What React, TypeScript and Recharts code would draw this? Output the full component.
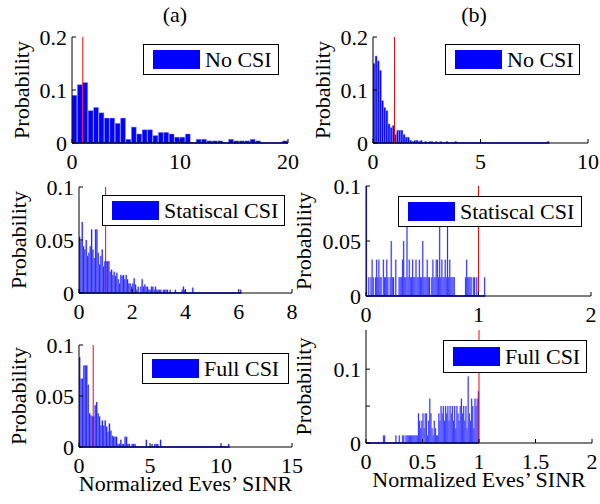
import React from 'react';
import { BarChart, Bar, XAxis, YAxis, ReferenceLine, Legend } from 'recharts';

const FONT = '"Liberation Serif", "Times New Roman", Times, serif';
const BLUE = '#0000ff';

// histogram bin widths
const aNoCsiBin = 0.5;
const bNoCsiBin = 0.1;
const aStatBin = 0.05;
const bStatBin = 0.01;
const aFullBin = 0.1;
const bFullBin = 0.01;

// (a) No CSI
const aNoCsi = [
  0.09, 0.11, 0.114, 0.061, 0.067, 0.057, 0.047, 0.047, 0.037, 0.047,
  0.007, 0.03, 0.017, 0.025, 0.025, 0.014, 0.02, 0.02, 0.017, 0.011,
  0.011, 0.017, 0, 0.007, 0.007, 0.004, 0.004, 0.004, 0, 0.007,
  0.004, 0.004, 0.004, 0.007, 0.004, 0, 0, 0, 0, 0.004,
];

// (b) No CSI
const bNoCsi = [
  0.15, 0.164, 0.155, 0.137, 0.08, 0.067, 0.061, 0.036, 0.029, 0.033,
  0.016, 0.024, 0.024, 0.024, 0.016, 0.011, 0.011, 0.005, 0.003, 0.005,
  0.005, 0.003, 0.005, 0, 0.003, 0, 0.003, 0.003, 0, 0.003,
  0, 0.003, 0, 0, 0.003, 0, 0, 0, 0.003, 0,
  0, 0, 0, 0, 0, 0, 0, 0, 0, 0,
  0, 0, 0, 0, 0, 0, 0, 0, 0, 0,
  0, 0, 0, 0, 0, 0, 0, 0, 0, 0,
  0, 0, 0, 0, 0, 0, 0, 0, 0, 0,
  0, 0.003,
];

// (a) Statiscal CSI
const aStat = [
  0.053, 0.049, 0.067, 0.044, 0.041, 0.05, 0.035, 0.038, 0.044, 0.06,
  0.041, 0.033, 0.06, 0.06, 0.038, 0.027, 0.035, 0.041, 0.025, 0.03,
  0.03, 0.03, 0.03, 0.02, 0.022, 0.017, 0.02, 0.016, 0.019, 0.013,
  0.009, 0.017, 0.016, 0.017, 0.013, 0.017, 0.013, 0.009, 0.009, 0.006,
  0.009, 0.014, 0.008, 0.003, 0.006, 0, 0.006, 0.013, 0.006, 0.008,
  0.006, 0.006, 0.003, 0.003, 0.006, 0.006, 0.003, 0.006, 0.003, 0.003,
  0.003, 0.003, 0, 0.003, 0.003, 0.003, 0.003, 0, 0.003, 0,
  0, 0, 0.003, 0, 0, 0, 0, 0.003, 0.006, 0.003,
  0, 0, 0, 0, 0, 0.005, 0, 0, 0, 0,
  0, 0, 0, 0, 0, 0, 0, 0, 0, 0,
  0, 0, 0, 0, 0, 0, 0, 0, 0, 0,
  0, 0, 0, 0, 0, 0, 0, 0, 0, 0,
  0, 0.003,
];

// (b) Statiscal CSI
const bStat = [
  0.1, 0, 0.017, 0, 0.017, 0.033, 0.017, 0, 0.017, 0.033,
  0.017, 0.033, 0.017, 0.017, 0, 0.033, 0.017, 0.017, 0.033, 0.017,
  0, 0.017, 0.05, 0.017, 0.017, 0, 0.033, 0, 0, 0.017,
  0.017, 0.017, 0.033, 0.05, 0.017, 0.017, 0.067, 0.017, 0.033, 0.017,
  0.017, 0.033, 0.017, 0.017, 0.033, 0.017, 0.017, 0.033, 0.017, 0.017,
  0.05, 0.017, 0.017, 0.017, 0.033, 0.017, 0.017, 0, 0.017, 0.033,
  0.017, 0.017, 0.033, 0.033, 0.017, 0.067, 0.017, 0.033, 0.017, 0.017,
  0.033, 0.017, 0.067, 0.017, 0.033, 0.017, 0.017, 0.017, 0.017, 0,
  0, 0, 0, 0, 0, 0, 0, 0, 0.017, 0.033,
  0.017, 0.017, 0.017, 0.017, 0, 0.017, 0.017, 0, 0.017, 0,
  0, 0, 0, 0, 0, 0.017,
];

// (a) Full CSI
const aFull = [
  0.088, 0.067, 0.067, 0.08, 0.08, 0.08, 0.061, 0.033, 0.031, 0.03,
  0.03, 0.041, 0.044, 0.033, 0.03, 0.021, 0.026, 0.021, 0.026, 0.02,
  0.015, 0.023, 0.016, 0.011, 0.01, 0.01, 0.01, 0.003, 0.003, 0.007,
  0.003, 0.003, 0.01, 0.01, 0.003, 0.003, 0, 0.003, 0.003, 0.003,
  0, 0, 0, 0, 0, 0, 0, 0.007, 0, 0,
  0, 0.003, 0, 0.003, 0.003, 0.003, 0, 0.007, 0, 0,
  0, 0, 0, 0, 0, 0, 0, 0, 0, 0,
  0, 0, 0, 0, 0, 0, 0, 0, 0, 0,
  0, 0, 0, 0, 0, 0, 0, 0, 0, 0,
  0, 0, 0, 0, 0, 0, 0, 0, 0, 0,
  0, 0, 0, 0, 0, 0.003,
];

// (b) Full CSI
const bFull = [
  0, 0, 0, 0, 0, 0, 0, 0, 0, 0,
  0, 0, 0, 0, 0, 0.01, 0.01, 0, 0, 0,
  0, 0, 0, 0, 0, 0, 0.01, 0, 0, 0.01,
  0, 0, 0.01, 0.01, 0, 0.01, 0.01, 0.01, 0.01, 0.01,
  0.01, 0.01, 0.01, 0.01, 0.01, 0.01, 0.04, 0.03, 0.02, 0.03,
  0.04, 0.02, 0.04, 0.04, 0.01, 0.03, 0.06, 0.04, 0.02, 0.01,
  0.03, 0.02, 0.01, 0.01, 0.04, 0.03, 0.05, 0.04, 0.05, 0.03,
  0.05, 0.04, 0.05, 0.03, 0.05, 0.04, 0.05, 0.03, 0.05, 0.02,
  0.05, 0.04, 0.03, 0.05, 0.06, 0.04, 0.05, 0.03, 0.05, 0.02,
  0.09, 0.04, 0.03, 0.06, 0.05, 0.02, 0.06, 0.05, 0.06, 0.07,
];

const bins = (vals: number[], w: number) =>
  vals.map((p, i) => ({ x: +((i + 0.5) * w).toFixed(4), p }));

const ML = 80;
const MT = 20;
const MR = 14;
const MB = 52;

type Box = { left: number; top: number; width: number; height?: number };

type PanelProps = {
  plot: Box & { height: number };
  values: number[];
  binWidth: number;
  xDomain: [number, number];
  xTicks: number[];
  yDomain: [number, number];
  yTicks: number[];
  yFormat?: (v: number) => string;
  legendText: string;
  legend: Box;
  yLabelX: number;
  xLabelOffset?: number;
};

function Panel({
  plot, values, binWidth, xDomain, xTicks, yDomain, yTicks, yFormat,
  legendText, legend, yLabelX, xLabelOffset,
}: PanelProps) {
  const chartLeft = plot.left - ML;
  const chartTop = plot.top - MT;
  const data = bins(values, binWidth);
  const barSize = (plot.width * binWidth) / (xDomain[1] - xDomain[0]);
  const dataEnd = values.length * binWidth;
  const tickStyle = { fill: '#000', fontSize: 22, fontFamily: FONT };
  const line = { stroke: '#000' };

  return (
    <div style={{ position: 'absolute', left: chartLeft, top: chartTop }}>
      <BarChart
        width={plot.width + ML + MR}
        height={plot.height + MT + MB}
        data={data}
        margin={{ top: MT, right: MR, bottom: 0, left: 0 }}
        barCategoryGap={0}
        barGap={0}
      >
        <XAxis
          type="number"
          dataKey="x"
          domain={xDomain}
          ticks={xTicks}
          interval={0}
          allowDataOverflow
          height={MB}
          tickSize={-4}
          tickMargin={14}
          tick={tickStyle}
          axisLine={line}
          tickLine={line}
          label={
            xLabelOffset !== undefined
              ? {
                  value: 'Normalized Eves\u2019 SINR',
                  position: 'insideBottom',
                  offset: xLabelOffset,
                  style: { fontSize: 22, fontFamily: FONT, fill: '#000' },
                }
              : undefined
          }
        />
        <XAxis
          xAxisId="top"
          orientation="top"
          type="number"
          domain={xDomain}
          ticks={xTicks}
          interval={0}
          allowDataOverflow
          height={0}
          tickSize={-4}
          tick={false}
          axisLine={line}
          tickLine={line}
        />
        <YAxis
          type="number"
          domain={yDomain}
          ticks={yTicks}
          interval={0}
          allowDataOverflow
          width={ML}
          tickSize={-4}
          tickMargin={9}
          tick={tickStyle}
          tickFormatter={yFormat}
          axisLine={line}
          tickLine={line}
          label={{
            value: 'Probability',
            angle: -90,
            position: 'insideLeft',
            offset: yLabelX - chartLeft,
            style: { textAnchor: 'middle', fontSize: 22, fontFamily: FONT, fill: '#000' },
          }}
        />
        <YAxis
          yAxisId="right"
          orientation="right"
          type="number"
          domain={yDomain}
          ticks={yTicks}
          interval={0}
          allowDataOverflow
          width={0}
          tickSize={-4}
          tick={false}
          axisLine={line}
          tickLine={line}
        />
        <Bar
          dataKey="p"
          fill={BLUE}
          stroke="#8a8aff"
          strokeWidth={0.4}
          barSize={barSize}
          isAnimationActive={false}
        />
        <ReferenceLine
          segment={[{ x: 0, y: 0 }, { x: dataEnd, y: 0 }]}
          stroke={BLUE}
          strokeWidth={1.5}
        />
        <ReferenceLine x={1} stroke="#ff0000" strokeWidth={1} />
        <Legend
          layout="horizontal"
          verticalAlign="middle"
          align="center"
          wrapperStyle={{
            left: legend.left - chartLeft,
            top: legend.top - chartTop,
            width: 'auto',
            height: 'auto',
            margin: 0,
          }}
          content={() => (
            <div
              style={{
                width: legend.width,
                height: legend.height ?? 31,
                boxSizing: 'border-box',
                border: '1px solid #000',
                background: '#fff',
                display: 'flex',
                alignItems: 'center',
                paddingLeft: 9,
                fontFamily: FONT,
                fontSize: 22,
                color: '#000',
                whiteSpace: 'nowrap',
              }}
            >
              <span
                style={{
                  display: 'inline-block',
                  width: 47,
                  height: 19,
                  background: BLUE,
                  marginRight: 5,
                }}
              />
              <span>{legendText}</span>
            </div>
          )}
        />
      </BarChart>
    </div>
  );
}

const titleStyle: React.CSSProperties = {
  position: 'absolute',
  top: 4,
  width: 60,
  textAlign: 'center',
  fontFamily: FONT,
  fontSize: 22,
  lineHeight: '22px',
  color: '#000',
};

export default function App() {
  return (
    <div
      style={{
        position: 'absolute',
        left: 0,
        top: 0,
        width: 600,
        height: 504,
        background: '#fff',
        overflow: 'hidden',
      }}
    >
      <div style={{ ...titleStyle, left: 175 - 30 }}>(a)</div>
      <div style={{ ...titleStyle, left: 474 - 30 }}>(b)</div>

      <Panel
        plot={{ left: 72, top: 37, width: 216, height: 106 }}
        values={aNoCsi}
        binWidth={aNoCsiBin}
        xDomain={[0, 20]}
        xTicks={[0, 10, 20]}
        yDomain={[0, 0.2]}
        yTicks={[0, 0.1, 0.2]}
        legendText="No CSI"
        legend={{ left: 143, top: 44, width: 136 }}
        yLabelX={21}
      />
      <Panel
        plot={{ left: 373, top: 37, width: 215, height: 106 }}
        values={bNoCsi}
        binWidth={bNoCsiBin}
        xDomain={[0, 10]}
        xTicks={[0, 5, 10]}
        yDomain={[0, 0.2]}
        yTicks={[0, 0.1, 0.2]}
        legendText="No CSI"
        legend={{ left: 445, top: 44, width: 135 }}
        yLabelX={322}
      />
      <Panel
        plot={{ left: 79, top: 187, width: 213, height: 106 }}
        values={aStat}
        binWidth={aStatBin}
        xDomain={[0, 8]}
        xTicks={[0, 2, 4, 6, 8]}
        yDomain={[0, 0.1]}
        yTicks={[0, 0.05, 0.1]}
        legendText="Statiscal CSI"
        legend={{ left: 102, top: 195, width: 183 }}
        yLabelX={18}
      />
      <Panel
        plot={{ left: 366, top: 186, width: 225, height: 110 }}
        values={bStat}
        binWidth={bStatBin}
        xDomain={[0, 2]}
        xTicks={[0, 1, 2]}
        yDomain={[0, 0.1]}
        yTicks={[0, 0.05, 0.1]}
        legendText="Statiscal CSI"
        legend={{ left: 398, top: 196, width: 184 }}
        yLabelX={303}
      />
      <Panel
        plot={{ left: 79, top: 345, width: 213, height: 102 }}
        values={aFull}
        binWidth={aFullBin}
        xDomain={[0, 15]}
        xTicks={[0, 5, 10, 15]}
        yDomain={[0, 0.1]}
        yTicks={[0, 0.05, 0.1]}
        legendText="Full CSI"
        legend={{ left: 142, top: 353, width: 147 }}
        yLabelX={18}
        xLabelOffset={8}
      />
      <Panel
        plot={{ left: 366, top: 330, width: 226, height: 113 }}
        values={bFull}
        binWidth={bFullBin}
        xDomain={[0, 2]}
        xTicks={[0, 0.5, 1, 1.5, 2]}
        yDomain={[0, 0.153]}
        yTicks={[0, 0.05, 0.1]}
        yFormat={(v: number) => (v === 0.05 ? '' : String(v))}
        legendText="Full CSI"
        legend={{ left: 443, top: 340, width: 144, height: 33 }}
        yLabelX={303}
        xLabelOffset={8}
      />
    </div>
  );
}
